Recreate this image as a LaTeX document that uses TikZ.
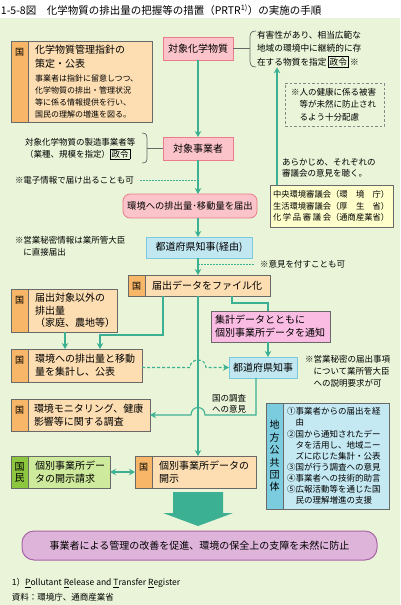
\documentclass[tikz,border=0pt]{standalone}
\usepackage{fontspec}
\setmainfont{Noto Sans CJK JP}
\usetikzlibrary{arrows.meta}

\definecolor{bggreen}{RGB}{233,244,216}
\definecolor{flow}{RGB}{60,176,146}
\definecolor{frame}{RGB}{105,105,105}
\definecolor{kuniBody}{RGB}{253,222,178}
\definecolor{kuniTab}{RGB}{247,182,104}
\definecolor{pinkBody}{RGB}{251,196,202}
\definecolor{pinkLine}{RGB}{236,124,138}
\definecolor{blueBody}{RGB}{193,231,241}
\definecolor{blueLine}{RGB}{124,200,222}
\definecolor{magBody}{RGB}{250,188,226}
\definecolor{yellowBody}{RGB}{255,255,204}
\definecolor{citizenBody}{RGB}{206,234,156}
\definecolor{citizenTab}{RGB}{141,198,63}
\definecolor{localBody}{RGB}{196,233,243}
\definecolor{localTab}{RGB}{124,204,224}
\definecolor{goalBody}{RGB}{222,180,218}
\definecolor{goalLine}{RGB}{170,100,170}

\setlength{\fboxsep}{1pt}
\setlength{\fboxrule}{0.6pt}

\begin{document}
\begin{tikzpicture}[x=1pt, y=-1pt,
    every node/.style={inner sep=0pt, outer sep=0pt},
    box/.style={draw=frame, line width=0.8pt, anchor=north west, font=\fontsize{10}{13}\selectfont},
    kunibody/.style={box, fill=kuniBody, align=left, inner xsep=7pt},
    kunitab/.style={box, fill=kuniTab, minimum width=17pt,
        label={[font=\fontsize{9}{9}\selectfont, anchor=north, yshift=-7pt]north:国}},
    pinkbox/.style={box, draw=pinkLine, fill=pinkBody, align=center},
    bluebox/.style={box, draw=blueLine, fill=blueBody, align=center},
    note/.style={anchor=west, align=left, font=\fontsize{8.5}{12}\selectfont},
    brace/.style={draw=frame, line width=0.7pt},
    conn/.style={draw=flow, line width=1.1pt},
    arr/.style={conn, -{Stealth[length=6pt, width=6.5pt]}},
    twoway/.style={conn, {Stealth[length=6pt, width=6.5pt]}-{Stealth[length=6pt, width=6.5pt]}},
    dots/.style={draw=flow, line width=1pt, dash pattern=on 1.5pt off 1.5pt}]

    \useasboundingbox (0,0) rectangle (400,605);
    \fill[bggreen] (0,18) rectangle (400,605);

    \coordinate (axis) at (198,0);
    \coordinate (riseE) at (277,0);
    \coordinate (bendA) at (163,335);
    \coordinate (dropA) at (100,0);
    \coordinate (dropB) at (65,0);
    \coordinate (bendC) at (232,303);
    \coordinate (dropC) at (268,0);
    \coordinate (bendD) at (256,415);
    \coordinate (braceR) at (250,48.5);
    \coordinate (braceL) at (147,148.5);

    \node[anchor=west, font=\fontsize{10.5}{12}\selectfont] (title) at (1,10)
        {1-5-8図\hspace{1em}化学物質の排出量の把握等の措置（PRTR\textsuperscript{1)}）の実施の手順};

    \node[kunitab, minimum height=81pt] (guideTab) at (11,41) {};
    \node[kunibody, text width=110pt, minimum height=81pt] (guide) at (28,41)
        {\fontsize{10}{14}\selectfont 化学物質管理指針の\\策定・公表\par
         \vspace{2pt}\fontsize{8}{12}\selectfont 事業者は指針に留意しつつ、\\化学物質の排出・管理状況\\等に係る情報提供を行い、\\国民の理解の増進を図る。\par};

    \node[pinkbox, minimum width=70pt, minimum height=23pt] (chem) at (163,37) {対象化学物質};
    \node[note, font=\fontsize{8.7}{13.5}\selectfont] (hazard) at (257,49)
        {有害性があり、相当広範な\\地域の環境中に継続的に存\\在する物質を指定\,\fbox{政令}\,※};
    \draw[brace] (256,31) .. controls (250,31) and (250,34) .. (250,40) -- (250,58)
        .. controls (250,64) and (250,67) .. (256,67);
    \draw[brace] (chem.east) -- (braceR);

    \node[box, draw=frame!80, dash pattern=on 2.5pt off 2pt, align=left, inner xsep=6pt,
        text width=87pt, minimum height=43pt, font=\fontsize{8.5}{12.5}\selectfont] (careNote) at (285,83)
        {※人の健康に係る被害\\　等が未然に防止され\\　るよう十分配慮};

    \node[pinkbox, minimum width=70pt, minimum height=23pt] (biz) at (163,137) {対象事業者};
    \node[note] (makers) at (25,149) {対象化学物質の製造事業者等\\（業種、規模を指定）\fbox{政令}};
    \draw[brace] (142,133) .. controls (147,133) and (147,136) .. (147,141) -- (147,156)
        .. controls (147,161) and (147,163) .. (142,163);
    \draw[brace] (braceL) -- (biz.west);

    \node[note] (elec) at (15,180) {※電子情報で届け出ることも可};

    \node[pinkbox, rounded corners=7pt, minimum width=134pt, minimum height=24pt,
        font=\fontsize{9.3}{12}\selectfont] (report) at (123,194) {環境への排出量･移動量を届出};

    \node[note, font=\fontsize{8.5}{11.5}\selectfont] (hearing) at (282,168)
        {あらかじめ、それぞれの\\審議会の意見を聴く。};
    \node[box, fill=yellowBody, align=left, inner xsep=3pt, text width=117pt, minimum height=42pt,
        font=\fontsize{8.3}{11.5}\selectfont] (council) at (270,185)
        {中央環境審議会（環　境　庁）\\生活環境審議会（厚　生　省）\\
         \makebox[7em][s]{化\hfil 学\hfil 品\hfil 審\hfil 議\hfil 会}（通商産業省）};

    \node[note] (secret) at (15,246) {※営業秘密情報は業所管大臣\\　に直接届出};
    \node[bluebox, minimum width=106pt, minimum height=21pt] (pref1) at (146,237) {都道府県知事(経由)};
    \node[note] (remark) at (260,264) {※意見を付すことも可};

    \node[kunitab, minimum height=21pt] (fileTab) at (128,275) {};
    \node[kunibody, text width=111pt, minimum height=21pt] (file) at (145,275) {届出データをファイル化};

    \node[kunitab, minimum height=43pt] (otherTab) at (11,289) {};
    \node[kunibody, text width=75pt, minimum height=43pt, font=\fontsize{10}{12.5}\selectfont] (other) at (28,289)
        {届出対象以外の\\排出量\\（家庭、農地等）};

    \node[box, fill=magBody, align=left, inner xsep=4pt, text width=111pt, minimum height=31pt] (notify) at (211,311)
        {集計データとともに\\個別事業所データを通知};

    \node[kunitab, minimum height=33pt] (totalTab) at (11,349) {};
    \node[kunibody, text width=100pt, minimum height=33pt] (total) at (28,349)
        {環境への排出量と移動\\量を集計し、公表};

    \node[bluebox, minimum width=68pt, minimum height=21pt] (pref2) at (229,357) {都道府県知事};
    \node[note] (secret2) at (305,371) {※営業秘密の届出事項\\　について業所管大臣\\　への説明要求が可};

    \node[kunitab, minimum height=32pt] (monitorTab) at (11,399) {};
    \node[kunibody, inner xsep=6pt, text width=110pt, minimum height=32pt] (monitor) at (28,399)
        {環境モニタリング、健康\\影響等に関する調査};
    \node[note, font=\fontsize{8.5}{11.5}\selectfont] (opinion) at (212,404) {国の調査\\への意見};

    \node[box, fill=localTab, minimum width=17pt, minimum height=106pt, align=center,
        font=\fontsize{10}{12.4}\selectfont] (localTab) at (266,403) {地\\方\\公\\共\\団\\体};
    \node[box, fill=localBody, align=left, inner xsep=4pt, text width=98pt, minimum height=106pt,
        font=\fontsize{8.5}{11.1}\selectfont] (local) at (283,403)
        {①事業者からの届出を経\\　由\\②国から通知されたデー\\　タを活用し、地域ニー\\　ズに応じた集計・公表\\
         ③国が行う調査への意見\\④事業者への技術的助言\\⑤広報活動等を通じた国\\　民の理解増進の支援};

    \node[box, fill=citizenTab, minimum width=17pt, minimum height=32pt, align=center,
        font=\fontsize{10}{11}\selectfont] (citizenTab) at (11,456) {国\\民};
    \node[box, fill=citizenBody, align=left, inner xsep=7pt, text width=68pt, minimum height=32pt] (citizen) at (28,456)
        {個別事業所デー\\タの開示請求};

    \node[kunitab, minimum height=32pt] (discloseTab) at (135,456) {};
    \node[kunibody, text width=90pt, minimum height=32pt] (disclose) at (152,456)
        {個別事業所データの\\開示};

    \fill[flow] (173,492) -- (223,492) -- (223,513) -- (233,513) -- (198,526) -- (163,513) -- (173,513) -- cycle;

    \node[box, draw=goalLine, fill=goalBody, line width=1pt, rounded corners=12pt, minimum width=355pt,
        minimum height=29pt] (goal) at (22,531)
        {事業者による管理の改善を促進、環境の保全上の支障を未然に防止};

    \node[anchor=west, font=\fontsize{8.5}{10}\selectfont] (fnote) at (12,583)
        {1）\underline{P}ollutant \underline{R}elease and \underline{T}ransfer \underline{R}egister};
    \node[anchor=west, font=\fontsize{8.5}{10}\selectfont] (source) at (12,597) {資料：環境庁、通商産業省};

    \draw[arr] (chem) -- (biz);
    \draw[arr] (axis |- biz.south) -- (axis |- report.north);
    \draw[arr] (axis |- report.south) -- (axis |- pref1.north);
    \draw[arr] (axis |- pref1.south) -- (axis |- file.north);
    \draw[arr] (axis |- file.south) -- (axis |- disclose.north);
    \draw[arr] (riseE |- council.north) -- (riseE |- hazard.south);
    \draw[dots] ([xshift=6pt]elec.east) -- (axis |- elec.east);
    \draw[dots] (axis |- remark.west) -- ([xshift=-5pt]remark.west);
    \draw[arr] (bendA |- file.south) -- (bendA) -| (dropA |- total.north);
    \draw[arr] (dropB |- other.south) -- (dropB |- total.north);
    \draw[conn] (bendC |- file.south) -- (bendC) -| (dropC |- notify.north);
    \draw[arr] (dropC |- notify.south) -- (dropC |- pref2.north);
    \draw[arr, dash pattern=on 3pt off 2pt] (total.east |- pref2.west) -- ([xshift=-8pt]axis |- pref2.west)
        .. controls +(0,-10) and +(0,-10) .. ([xshift=8pt]axis |- pref2.west) -- (pref2.west);
    \draw[arr] (bendD |- pref2.south) -- (bendD) -- ([xshift=7pt]axis |- bendD)
        .. controls +(0,-10) and +(0,-10) .. ([xshift=-7pt]axis |- bendD) -- (monitor.east |- bendD);
    \draw[twoway] (citizen.east) -- (discloseTab.west);
\end{tikzpicture}
\end{document}
